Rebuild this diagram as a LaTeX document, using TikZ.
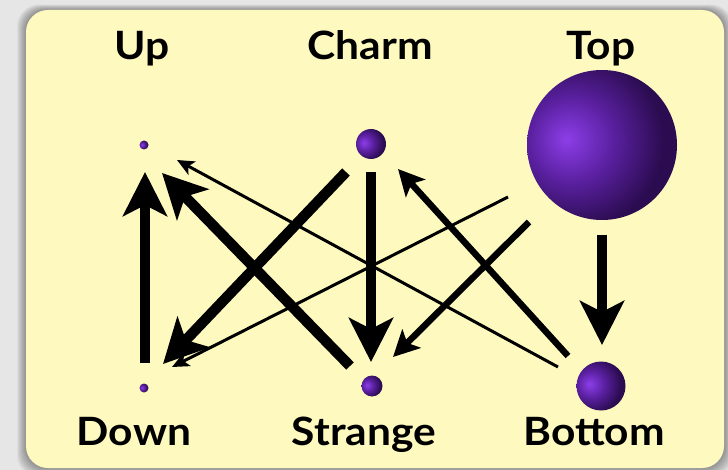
\documentclass[tikz,border=0pt]{standalone}
\usepackage{fontspec}
\newfontfamily\labelfont{Lato}[FakeStretch=1.09]
\usetikzlibrary{arrows.meta}
\definecolor{bggray}{HTML}{E6E6E6}
\definecolor{boxyellow}{HTML}{FEFABF}
\definecolor{qhl}{HTML}{8C3EE8}
\definecolor{qmid}{HTML}{5A20A0}
\definecolor{qdark}{HTML}{2B0C50}
\pgfdeclareradialshading{quark}{\pgfpoint{-12bp}{2bp}}{color(0bp)=(qhl); color(14bp)=(qmid); color(29bp)=(qdark); color(50bp)=(qdark); color(100bp)=(qdark)}
\tikzset{
  quark/.style={circle, shading=quark, inner sep=0pt, draw=none},
  lbl/.style={anchor=base, inner sep=0pt, font=\labelfont\bfseries\fontsize{39}{42}\selectfont},
  thickarrow/.style={line width=10.5pt, -{Stealth[length=44pt, width=44pt, inset=11pt]}},
  medarrow/.style={line width=6.5pt, -{Stealth[length=26pt, width=26pt, inset=6pt]}},
  thinarrow/.style={line width=3pt, -{Stealth[length=17pt, width=15pt, inset=4pt]}}
}
\begin{document}
\begin{tikzpicture}[x=1pt, y=-1pt]
\useasboundingbox (0,0) rectangle (728,470);
\fill[bggray] (0,0) rectangle (728,470);
% shadow
\foreach \e in {1,2,...,9}{
  \fill[black, opacity=0.045, rounded corners=22pt] (26-\e,10-\e*0.6) rectangle (724+\e,468+\e);
}
\fill[boxyellow, rounded corners=22pt] (26,10) rectangle (724,468);
% particles
\node[quark, minimum size=9pt] (up) at (144,145) {};
\node[quark, minimum size=30pt] (charm) at (371,144) {};
\node[quark, minimum size=150pt] (top) at (602,145) {};
\node[quark, minimum size=9pt] (down) at (144,388) {};
\node[quark, minimum size=21pt] (strange) at (372,386) {};
\node[quark, minimum size=49pt] (bottom) at (601,386) {};
% labels
\node[lbl] (lup) at (142,60) {Up};
\node[lbl] (lcharm) at (370,60) {Charm};
\node[lbl] (ltop) at (601,60) {Top};
\node[lbl] (ldown) at (134,445) {Down};
\node[lbl] (lstrange) at (364,445) {Strange};
\node[lbl] (lbottom) at (594,445) {Bottom};
% connector end points
\coordinate (du-a) at (145,363);
\coordinate (du-b) at (145,172);
\coordinate (su-a) at (350,366);
\coordinate (su-b) at (162,173);
\coordinate (bu-a) at (558,367);
\coordinate (bu-b) at (177,160);
\coordinate (cd-a) at (346,172);
\coordinate (cd-b) at (163,364);
\coordinate (cs-a) at (371,172);
\coordinate (cs-b) at (371,362);
\coordinate (td-a) at (508,197);
\coordinate (td-b) at (172,367);
\coordinate (ts-a) at (529,222);
\coordinate (ts-b) at (393,357);
\coordinate (bc-a) at (568,356);
\coordinate (bc-b) at (398,169);
\coordinate (tb-a) at (602,235);
\coordinate (tb-b) at (602,345);
% connectors
\draw[thinarrow] (bu-a) -- (bu-b);
\draw[thinarrow] (td-a) -- (td-b);
\draw[thickarrow] (du-a) -- (du-b);
\draw[thickarrow] (su-a) -- (su-b);
\draw[thickarrow] (cd-a) -- (cd-b);
\draw[thickarrow] (cs-a) -- (cs-b);
\draw[medarrow] (ts-a) -- (ts-b);
\draw[medarrow] (bc-a) -- (bc-b);
\draw[thickarrow] (tb-a) -- (tb-b);
\end{tikzpicture}
\end{document}
